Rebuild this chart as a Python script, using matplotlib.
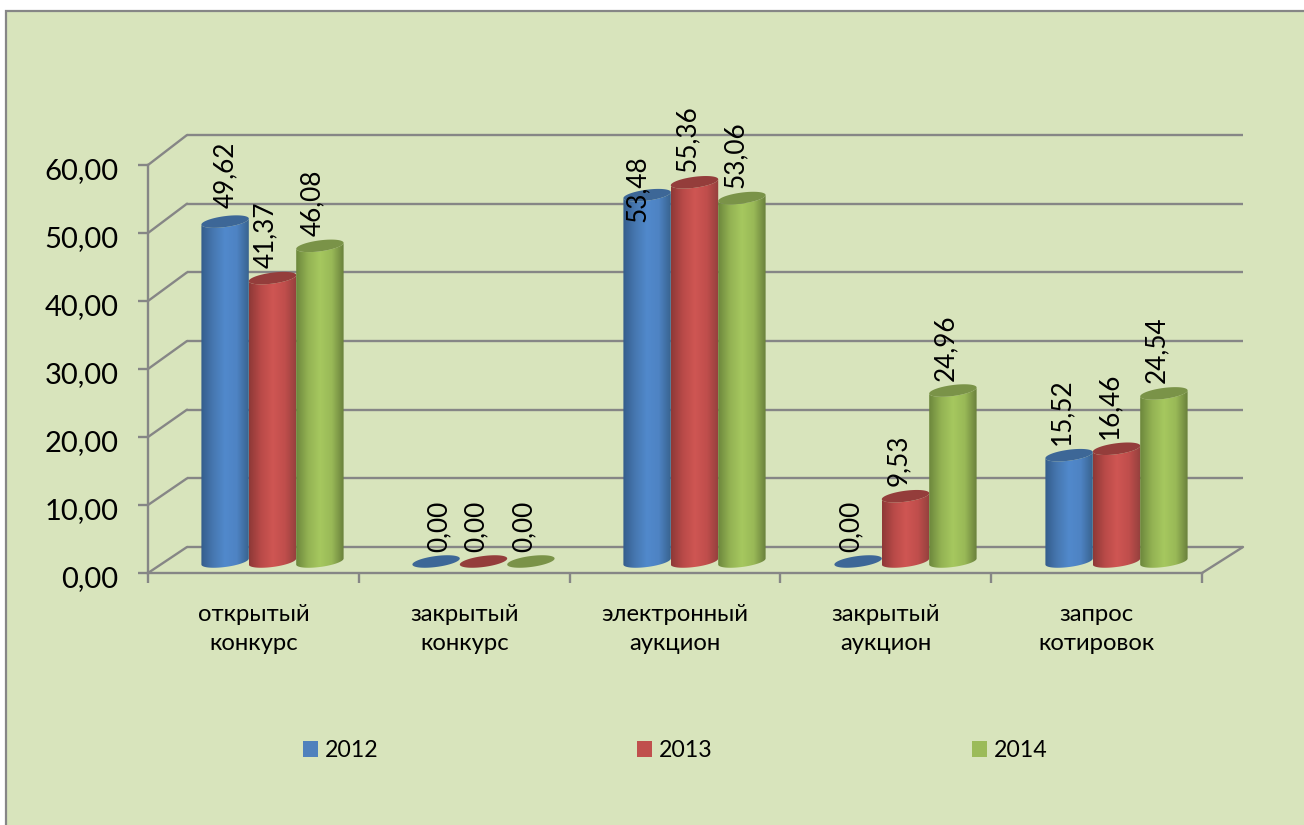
import matplotlib
matplotlib.use('Agg')
from matplotlib import pyplot as plt
from matplotlib.colors import LinearSegmentedColormap
from matplotlib.patches import Patch, PathPatch, Rectangle, ConnectionPatch
from matplotlib.path import Path
from matplotlib.transforms import ScaledTranslation
import numpy as np

categories = ['открытый\nконкурс', 'закрытый\nконкурс', 'электронный\nаукцион',
              'закрытый\nаукцион', 'запрос\nкотировок']
years = ['2012', '2013', '2014']
v2012 = [49.62, 0.00, 53.48, 0.00, 15.52]
v2013 = [41.37, 0.00, 55.36, 9.53, 16.46]
v2014 = [46.08, 0.00, 53.06, 24.96, 24.54]
yticks = [0, 10, 20, 30, 40, 50, 60]

W, H = 1304, 825
GREY = '#868686'
BG = '#d8e4bc'
FONT = ['Lato', 'Open Sans', 'DejaVu Sans']
plt.rcParams['font.family'] = FONT

body_cols = [
    ['#345d8c', '#4677b0', '#5189cc', '#4e83c3', '#38638f'],
    ['#8e3937', '#b94a48', '#cf5653', '#c04e4c', '#93403d'],
    ['#6c873c', '#93b253', '#a6c85f', '#99b957', '#69803c'],
]
top_cols = ['#3d6797', '#943d3b', '#7a9348']
legend_cols = ['#4f81bd', '#c0504d', '#9bbb59']


def rect(xl, xr, yb, yt):
    return [xl / W, 1 - yb / H, (xr - xl) / W, (yb - yt) / H]


fig = plt.figure(figsize=(W / 100, H / 100), dpi=100, facecolor='white')
fig.add_artist(Rectangle((5.5 / W, -0.02), 1.02, 1.02 - 10.5 / H, transform=fig.transFigure,
                         facecolor=BG, edgecolor=GREY, linewidth=1.6, zorder=0))

# back wall
back = fig.add_axes(rect(187, 1243, 547, 135), zorder=1)
back.set_xlim(0, 5)
back.set_ylim(0, 60)
back.axis('off')
back.patch.set_alpha(0)
back.hlines(yticks, 0, 5, color=GREY, lw=1.7, clip_on=False)

# front plane with the axes
ax = fig.add_axes(rect(148, 1202, 573, 165), zorder=2)
ax.patch.set_alpha(0)
ax.set_xlim(0, 5)
ax.set_ylim(0, 60)
for s in ['top', 'right']:
    ax.spines[s].set_visible(False)
for s in ['left', 'bottom']:
    ax.spines[s].set_color(GREY)
    ax.spines[s].set_linewidth(1.7)
ax.set_yticks(yticks)
ax.set_yticklabels([('%.2f' % y).replace('.', ',') for y in yticks], fontsize=21)
ax.set_xticks(range(6))
ax.set_xticklabels([])
ax.set_xticks(np.arange(len(categories)) + 0.5, minor=True)
ax.set_xticklabels(categories, minor=True, fontsize=17.2, linespacing=1.5)
ax.tick_params(axis='y', length=7.2, width=1.7, color=GREY, pad=14)
ax.tick_params(axis='x', which='major', length=7.2, width=1.7, color=GREY)
ax.tick_params(axis='x', which='minor', length=0, pad=22)
down = ScaledTranslation(0, -3.5 / 100, fig.dpi_scale_trans)
for lab in ax.get_yticklabels():
    lab.set_transform(lab.get_transform() + down)

# side wall and floor edges
for y in yticks:
    fig.add_artist(ConnectionPatch((0, y), (0, y), coordsA=ax.transData, coordsB=back.transData,
                                   color=GREY, lw=1.7, zorder=1.5))
fig.add_artist(ConnectionPatch((5, 0), (5, 0), coordsA=ax.transData, coordsB=back.transData,
                               color=GREY, lw=1.7, zorder=1.5))

# cylinders, axes reach below zero so the rounded bases are not cut
cyl = fig.add_axes(rect(167, 1222, 561.5 + 2 * 6.85, 150.5), zorder=3)
cyl.patch.set_alpha(0)
cyl.axis('off')
width = 47.4 / 211
cap_h = 5.5 / 6.85
tilt = 3.0 / 6.85
t_low = np.linspace(np.pi, 2 * np.pi, 60)
t_all = np.linspace(0, 2 * np.pi, 120)


def edge(cx, level, t):
    return np.column_stack([cx + width / 2 * np.cos(t),
                            level + cap_h * np.sin(t) + tilt * np.cos(t)])


series = [v2012, v2013, v2014]
z = 3
for j, vals in enumerate(series):
    cmap = LinearSegmentedColormap.from_list('c%d' % j, body_cols[j])
    for i, v in enumerate(vals):
        cx = i + (j - 1) * width
        if v > 0:
            pts = np.vstack([edge(cx, 0, t_low), edge(cx, v, t_low)[::-1]])
            clip = PathPatch(Path(np.vstack([pts, pts[:1]]), closed=True), transform=cyl.transData,
                             facecolor='none', edgecolor='none')
            cyl.add_patch(clip)
            im = cyl.imshow(np.linspace(0, 1, 128)[None, :], cmap=cmap, aspect='auto', zorder=z,
                            extent=(cx - width / 2, cx + width / 2, -2, v + 2), interpolation='bilinear')
            im.set_clip_path(clip)
        cyl.fill(*edge(cx, v, t_all).T, facecolor=top_cols[j], edgecolor='none', zorder=z + 0.5)
        z += 1

cyl.set_xlim(-0.5, 4.5)
cyl.set_ylim(-2, 60)

# value labels, offsets in pixels from the cap centre
nudge = {(0, 0): (0, 14), (1, 0): (3, 10), (2, 0): (-10, -27)}
for j, vals in enumerate(series):
    for i, v in enumerate(vals):
        dx, dy = nudge.get((i, j), (-7, 10))
        cyl.annotate(('%.2f' % v).replace('.', ','), (i + (j - 1) * width, v),
                     xytext=(dx * 0.72, dy * 0.72), textcoords='offset points',
                     rotation=90, ha='center', va='bottom', fontsize=18.8, color='black',
                     zorder=100, annotation_clip=False)

handles = [Patch(facecolor=c, edgecolor='none') for c in legend_cols]
fig.legend(handles, years, loc='center left', bbox_to_anchor=(303 / W, 1 - 750.5 / H), ncol=3,
           frameon=False, fontsize=16.7, handlelength=0.65, handleheight=0.65, handletextpad=0.3,
           columnspacing=11.15, borderpad=0, borderaxespad=0)

fig.savefig('out.png', dpi=100)
